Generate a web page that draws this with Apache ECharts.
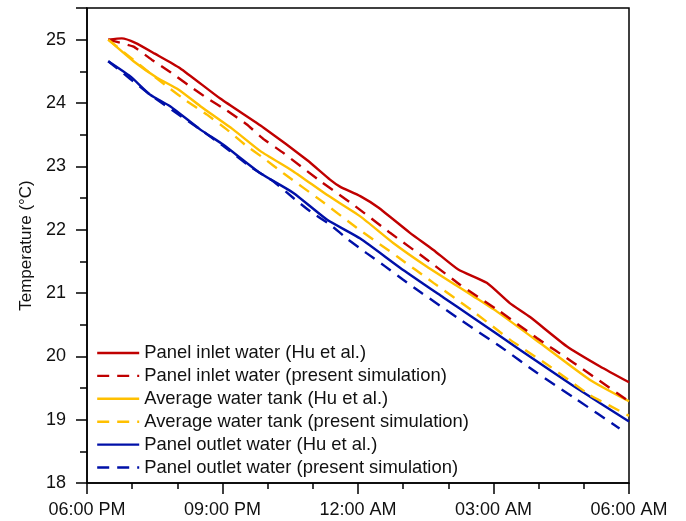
<!DOCTYPE html>
<html>
<head>
<meta charset="utf-8">
<script src="https://cdn.jsdelivr.net/npm/echarts@6/dist/echarts.min.js"></script>
<style>
  html, body { margin: 0; padding: 0; background: #fff; }
  #chart { width: 686px; height: 521px; }
</style>
</head>
<body>
<div id="chart"></div>
<script>
// Hours after 06:00 PM and temperatures (°C) for each curve
const timeTicks = ['06:00 PM', '09:00 PM', '12:00 AM', '03:00 AM', '06:00 AM'];

const inletHuT = [0.47, 0.77, 1.07, 1.5, 2.06, 2.95, 3.91, 4.87, 5.38, 5.6, 6.05, 6.45, 7.15, 7.67, 8.22, 8.85, 9.36, 9.81, 10.62, 11.36, 12];
const inletHuV = [25.0, 25.02, 24.95, 24.78, 24.55, 24.07, 23.61, 23.1, 22.79, 22.68, 22.53, 22.35, 21.95, 21.68, 21.37, 21.16, 20.84, 20.62, 20.16, 19.84, 19.59];

const inletSimT = [0.47, 1.03, 1.44, 1.84, 2.29, 2.65, 3.1, 3.54, 3.91, 4.35, 5.12, 5.94, 6.71, 7.52, 8.26, 9.14, 9.96, 10.77, 12];
const inletSimV = [25.0, 24.89, 24.68, 24.49, 24.26, 24.08, 23.88, 23.66, 23.43, 23.21, 22.79, 22.37, 21.95, 21.53, 21.13, 20.71, 20.29, 19.9, 19.29];

const tankHuT = [0.47, 1.03, 1.55, 2.03, 2.51, 3.24, 3.84, 4.57, 5.31, 6.05, 6.78, 7.52, 8.55, 9.07, 10.03, 11.13, 12];
const tankHuV = [25.0, 24.66, 24.4, 24.21, 23.95, 23.58, 23.24, 22.92, 22.55, 22.21, 21.79, 21.42, 20.95, 20.71, 20.21, 19.63, 19.29];

const tankSimT = [0.47, 1.4, 1.81, 2.21, 2.65, 3.1, 3.5, 3.91, 4.35, 5.16, 5.97, 6.86, 7.67, 8.55, 9.37, 10.25, 11.13, 12];
const tankSimV = [25.0, 24.47, 24.24, 24.03, 23.82, 23.58, 23.34, 23.13, 22.89, 22.47, 22.03, 21.58, 21.16, 20.71, 20.26, 19.84, 19.39, 19.06];

const outletHuT = [0.47, 0.96, 1.4, 1.84, 2.51, 3.02, 3.84, 4.57, 5.31, 6.05, 6.93, 7.89, 8.55, 9.59, 10.77, 12];
const outletHuV = [24.66, 24.42, 24.13, 23.95, 23.58, 23.34, 22.89, 22.58, 22.16, 21.86, 21.4, 20.93, 20.61, 20.1, 19.53, 18.97];

const outletSimT = [0.47, 1.4, 2.51, 3.02, 3.6, 4.13, 4.57, 4.94, 5.38, 5.79, 6.19, 6.6, 7.0, 7.41, 8.26, 9.14, 9.96, 10.84, 11.79];
const outletSimV = [24.66, 24.13, 23.58, 23.32, 23.0, 22.76, 22.5, 22.29, 22.08, 21.84, 21.63, 21.42, 21.21, 21.0, 20.58, 20.16, 19.74, 19.32, 18.86];

const seriesNames = [
  'Panel inlet water (Hu et al.)',
  'Panel inlet water (present simulation)',
  'Average water tank (Hu et al.)',
  'Average water tank (present simulation)',
  'Panel outlet water (Hu et al.)',
  'Panel outlet water (present simulation)'
];

const RED = '#C00000', YELLOW = '#FFC000', BLUE = '#0010A8';
const FONT = "'Liberation Sans', Arial, sans-serif";
const DASH = [12, 8];

function pairs(ts, vs) { return ts.map((t, i) => [t, vs[i]]); }

function line(name, ts, vs, color, dashed) {
  return {
    name: name,
    type: 'line',
    data: pairs(ts, vs),
    smooth: dashed ? 0.1 : 0.18,
    symbol: 'none',
    lineStyle: { color: color, width: 2.4, type: dashed ? DASH : 'solid' },
    itemStyle: { color: color },
    z: dashed ? 3 : 2
  };
}

const chart = echarts.init(document.getElementById('chart'), null, { renderer: 'canvas' });
chart.setOption({
  animation: false,
  backgroundColor: '#fff',
  textStyle: { fontFamily: FONT },
  grid: {
    left: 87, right: 57, top: 8, bottom: 38,
    show: true, borderColor: '#000', borderWidth: 1.5
  },
  legend: {
    orient: 'vertical',
    left: 91, top: 339,
    itemWidth: 42, itemHeight: 14, itemGap: 4.9,
    itemStyle: { opacity: 0 },
    lineStyle: { width: 2.4 },
    textStyle: { fontFamily: FONT, fontSize: 18.4, color: '#111' },
    data: seriesNames
  },
  xAxis: {
    type: 'value',
    min: 0, max: 12, interval: 3,
    axisLine: { lineStyle: { color: '#000', width: 1.5 } },
    axisTick: { inside: false, length: 11, lineStyle: { color: '#000', width: 1.5 } },
    minorTick: { show: true, splitNumber: 3, length: 6, lineStyle: { color: '#000', width: 1.5 } },
    splitLine: { show: false },
    axisLabel: {
      margin: 18, fontSize: 18, color: '#111', fontFamily: FONT,
      formatter: v => timeTicks[Math.round(v / 3)]
    }
  },
  yAxis: {
    type: 'value',
    min: 18, max: 25.5, interval: 1,
    name: 'Temperature (°C)',
    nameLocation: 'middle',
    nameGap: 52,
    nameTextStyle: { fontSize: 17, color: '#111', fontFamily: FONT },
    axisLine: { lineStyle: { color: '#000', width: 1.5 } },
    axisTick: { inside: false, length: 11, lineStyle: { color: '#000', width: 1.5 } },
    minorTick: { show: true, splitNumber: 2, length: 7, lineStyle: { color: '#000', width: 1.5 } },
    splitLine: { show: false },
    axisLabel: {
      margin: 21, fontSize: 18, color: '#111', fontFamily: FONT,
      formatter: v => (Number.isInteger(v) ? String(v) : '')
    }
  },
  series: [
    line(seriesNames[0], inletHuT, inletHuV, RED, false),
    line(seriesNames[1], inletSimT, inletSimV, RED, true),
    line(seriesNames[2], tankHuT, tankHuV, YELLOW, false),
    line(seriesNames[3], tankSimT, tankSimV, YELLOW, true),
    line(seriesNames[4], outletHuT, outletHuV, BLUE, false),
    line(seriesNames[5], outletSimT, outletSimV, BLUE, true)
  ]
});
</script>
</body>
</html>
